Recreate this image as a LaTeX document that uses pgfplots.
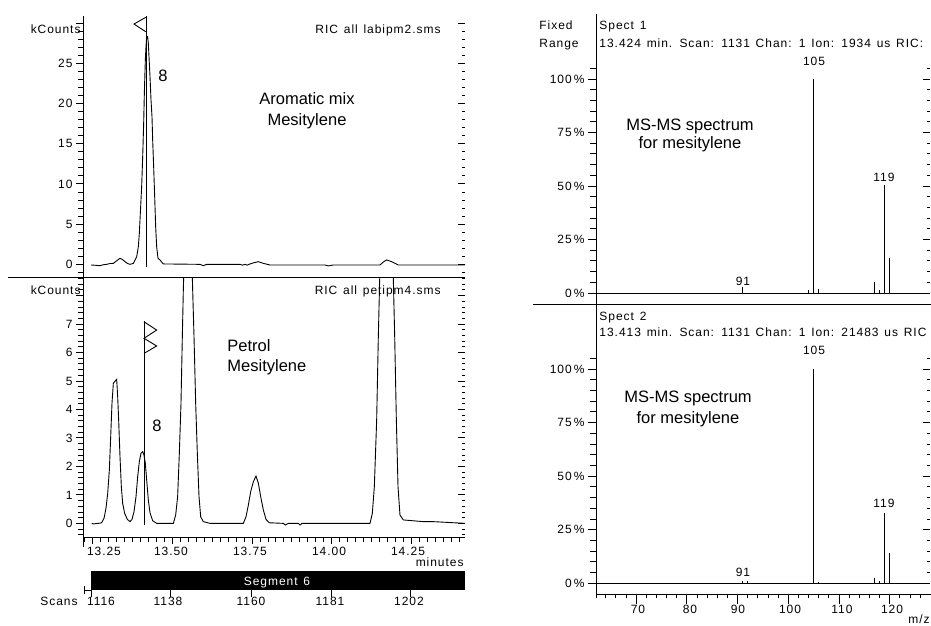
\documentclass[border=0pt]{standalone}
\usepackage{pgfplots}
\pgfplotsset{compat=1.18}
\usepackage{fontspec}
\setmainfont{Liberation Sans}
\newfontfamily\labfont{Liberation Sans}[LetterSpace=8,WordSpace=1.35]
\newcommand{\lbl}{\labfont\fontsize{12}{14}\selectfont}
\newcommand{\ann}{\fontsize{16.5}{19}\selectfont}
\pgfplotsset{
  panel/.style={scale only axis, anchor=south west, axis line style={draw=none},
    tick style={black, line width=0.9pt}, tick align=outside, xtick=\empty,
    ytick pos=left, yticklabel style={font=\lbl, anchor=east},
    /pgf/number format/assume math mode=true, clip=true},
  rticks/.style={scale only axis, anchor=south west, axis line style={draw=none},
    tick style={black, line width=0.9pt}, tick align=inside, xtick=\empty,
    ytick pos=right, yticklabels={}, major tick length=7pt, minor tick length=3pt},
}
\begin{document}
\begin{tikzpicture}
% ---------- top-left chromatogram ----------
\begin{axis}[panel, at={(83pt,-277pt)}, width=382pt, height=261pt,
  xmin=13.2202, xmax=14.4177, ymin=-1.576, ymax=30.89,
  ytick={0,5,10,15,20,25,30}, yticklabels={0,5,10,15,20,25,{}},
  minor ytick={-1,0,...,30}, major tick length=7pt, minor tick length=5pt]
\addplot[black, line width=0.9pt] table {
13.2453 -0.08
13.2600 -0.12
13.2735 -0.17
13.2840 -0.05
13.2944 0.00
13.3050 0.10
13.3153 0.12
13.3260 0.45
13.3362 0.75
13.3440 0.60
13.3519 0.33
13.3600 0.10
13.3676 0.00
13.3780 0.12
13.3885 0.95
13.3937 2.2
13.3968 3.86
13.3999 6.34
13.4041 9.66
13.4073 13.39
13.4104 17.54
13.4125 21.27
13.4156 25.41
13.4177 27.07
13.4198 28.32
13.4229 28.32
13.4250 27.49
13.4271 25.83
13.4303 23.34
13.4334 20.44
13.4365 18.37
13.4386 15.46
13.4417 12.15
13.4449 8.42
13.4480 4.68
13.4511 2.2
13.4553 0.75
13.4616 0.54
13.4720 0.05
13.5870 0.00
13.5974 -0.17
13.6079 0.00
13.7124 0.00
13.7200 -0.1
13.7281 0.0
13.7350 -0.1
13.7437 0.05
13.7560 0.2
13.7699 0.33
13.7855 0.12
13.8064 -0.08
13.9788 -0.08
13.9893 -0.2
14.0050 -0.08
14.1513 -0.08
14.1620 0.3
14.1722 0.55
14.1878 0.33
14.2087 -0.08
14.4177 -0.08
};
\draw[line width=0.9pt] (axis cs:13.4198,-0.3) -- (axis cs:13.4198,30.89);
\draw[line width=0.9pt] (axis cs:13.4167,30.72) -- (axis cs:13.3801,29.89) -- (axis cs:13.4167,28.94);
\end{axis}
\begin{axis}[rticks, at={(83pt,-277pt)}, width=382pt, height=261pt,
  xmin=13.2202, xmax=14.4177, ymin=-1.576, ymax=30.89,
  ytick={0,5,10,15,20,25,30}, minor ytick={-1,0,...,30}]
\end{axis}
% ---------- bottom-left chromatogram ----------
\begin{axis}[panel, at={(83pt,-537pt)}, width=382pt, height=260pt,
  xmin=13.2202, xmax=14.4177, ymin=-0.480, ymax=8.653,
  ytick={0,1,2,3,4,5,6,7,8}, yticklabels={0,1,2,3,4,5,6,7,{}},
  minor ytick={-0.4,-0.2,0,0.2,...,8.6},
  xtick={13.25,13.5,13.75,14,14.25}, xticklabels={}, xtick pos=left,
  minor xtick={13.225,13.25,...,14.41},
  major tick length=7pt, minor tick length=5pt]
\addplot[black, line width=0.9pt] table {
13.2474 0
13.2526 -0.02
13.2683 0
13.2787 0.02
13.2861 0.18
13.2923 0.53
13.2976 1.05
13.3028 1.87
13.3070 3.04
13.3111 4.22
13.3153 4.92
13.3195 4.98
13.3258 5.06
13.3289 4.45
13.3320 3.63
13.3362 2.34
13.3404 1.29
13.3446 0.70
13.3508 0.35
13.3592 0.14
13.3676 0.06
13.3738 0.14
13.3801 0.41
13.3864 0.94
13.3916 1.64
13.3968 2.17
13.4020 2.46
13.4073 2.52
13.4114 2.40
13.4156 2.11
13.4198 1.52
13.4250 0.82
13.4303 0.37
13.4386 0.09
13.4511 0
13.5034 0
13.5107 0.29
13.5169 0.94
13.5222 2.46
13.5274 4.22
13.5316 6.56
13.5347 8.2
13.5379 9.5
13.5494 14
13.5609 9.5
13.5640 8.2
13.5682 6.56
13.5734 4.22
13.5786 2.46
13.5839 0.94
13.5891 0.23
13.5974 0.06
13.6183 0
13.7228 0
13.7312 0.23
13.7385 0.64
13.7458 1.11
13.7542 1.46
13.7625 1.66
13.7699 1.41
13.7772 0.94
13.7855 0.47
13.7939 0.14
13.8043 0.02
13.8482 0
13.8545 -0.06
13.8639 0
13.8952 0
13.9005 -0.06
13.9067 0
14.1199 0
14.1272 0.35
14.1335 1.29
14.1408 3.63
14.1460 6.56
14.1502 8.55
14.1533 9.6
14.1722 20
14.1899 9.6
14.1931 8.55
14.1973 6.56
14.2025 3.63
14.2077 1.29
14.2139 0.29
14.2244 0.12
14.2557 0.09
14.2871 0.06
14.3184 0.06
14.4177 0
};
\draw[line width=0.9pt] (axis cs:13.4114,-0.06) -- (axis cs:13.4114,7.10);
\draw[line width=0.9pt] (axis cs:13.4114,7.08) -- (axis cs:13.4511,6.79) -- (axis cs:13.4114,6.50)
  -- (axis cs:13.4511,6.23) -- (axis cs:13.4114,5.97);
\end{axis}
\begin{axis}[rticks, at={(83pt,-537pt)}, width=382pt, height=260pt,
  xmin=13.2202, xmax=14.4177, ymin=-0.480, ymax=8.653,
  ytick={0,1,2,3,4,5,6,7,8}, minor ytick={-0.4,-0.2,0,0.2,...,8.6}]
\end{axis}
% ---------- top-right spectrum ----------
\begin{axis}[panel, at={(596pt,-304pt)}, width=334pt, height=290pt,
  xmin=62.08, xmax=127.94, ymin=-5.14, ymax=130.37,
  ytick={0,25,50,75,100}, yticklabels={0\,\%,25\,\%,50\,\%,75\,\%,100\,\%},
  minor ytick={5,10,...,105}, major tick length=8pt, minor tick length=6pt]
\addplot[ycomb, black, line width=0.9pt] coordinates {
(91,2.8) (104,1.2) (105,100) (106,2) (117,5.1) (118,1.2) (119,50.4) (120,16.3)};
\draw[line width=0.9pt] (axis cs:62.08,0) -- (axis cs:127.94,0);
\end{axis}
\begin{axis}[rticks, at={(596pt,-304pt)}, width=334pt, height=290pt,
  xmin=62.08, xmax=127.94, ymin=-5.14, ymax=130.37,
  ytick={0,25,50,75,100}, minor ytick={5,10,...,105}]
\end{axis}
% ---------- bottom-right spectrum ----------
\begin{axis}[panel, at={(596pt,-594pt)}, width=334pt, height=290pt,
  xmin=62.08, xmax=127.94, ymin=-5.0, ymax=130.3,
  ytick={0,25,50,75,100}, yticklabels={0\,\%,25\,\%,50\,\%,75\,\%,100\,\%},
  minor ytick={5,10,...,105}, major tick length=8pt, minor tick length=6pt]
\addplot[ycomb, black, line width=0.9pt] coordinates {
(91,1.2) (92,1.1) (105,100) (106,0.5) (117,2.3) (118,1.2) (119,32.7) (120,14.3)};
\draw[line width=0.9pt] (axis cs:62.08,0) -- (axis cs:127.94,0);
\end{axis}
\begin{axis}[rticks, at={(596pt,-594pt)}, width=334pt, height=290pt,
  xmin=62.08, xmax=127.94, ymin=-5.0, ymax=130.3,
  ytick={0,25,50,75,100}, minor ytick={5,10,...,105}]
\end{axis}
\begin{axis}[scale only axis, anchor=south west, at={(596pt,-594pt)}, width=334pt, height=290pt,
  xmin=62.08, xmax=127.94, ymin=-5.0, ymax=130.3, axis line style={draw=none},
  ytick=\empty, xtick={70,80,...,120}, xticklabels={}, minor xtick={64,66,...,126},
  xtick pos=left, tick align=outside, major tick length=10pt, minor tick length=4pt,
  tick style={black, line width=0.9pt}]
\end{axis}
% ---------- frame lines and texts ----------
\begin{scope}[x=1pt, y=-1pt, line width=0.9pt]
\draw (83,16) -- (83,547);
\draw (8,277) -- (465,277);
\draw (83,537) -- (465,537);
\fill (91,571) rectangle (465,590);
\draw (84,590) -- (91,590);
\draw (84,586) -- (84,594);
\foreach \xx in {91,170,251,331,410} {\draw (\xx,590) -- (\xx,597);}
\draw (596,14) -- (596,598);
\draw (533,304) -- (931,304);
\draw (596,594) -- (931,594);
% left texts
\node[font=\lbl, anchor=base east, inner sep=0pt] at (81,33) {kCounts};
\node[font=\lbl, anchor=base east, inner sep=0pt] at (441,33) {RIC all labipm2.sms};
\node[font=\lbl, anchor=base east, inner sep=0pt] at (81,294) {kCounts};
\node[font=\lbl, anchor=base east, inner sep=0pt] at (441,294) {RIC all petipm4.sms};
\node[font=\ann, anchor=base, inner sep=0pt] at (163,81.7) {8};
\node[font=\ann, anchor=base, inner sep=0pt] at (157,431) {8};
\node[font=\ann, anchor=base, inner sep=0pt] at (307,104.3) {Aromatic mix};
\node[font=\ann, anchor=base, inner sep=0pt] at (307,125) {Mesitylene};
\node[font=\ann, anchor=base west, inner sep=0pt] at (227,351) {Petrol};
\node[font=\ann, anchor=base west, inner sep=0pt] at (227,371.7) {Mesitylene};
\foreach \xx/\tt in {104/13.25,171/13.50,250/13.75,329/14.00,408/14.25}
  {\node[font=\lbl, anchor=base, inner sep=0pt] at (\xx,555) {\tt};}
\node[font=\lbl, anchor=base east, inner sep=0pt] at (464,566.7) {minutes};
\node[font=\lbl, anchor=base, inner sep=0pt, text=white] at (277,585) {Segment 6};
\node[font=\lbl, anchor=base, inner sep=0pt] at (59,605) {Scans};
\foreach \xx/\tt in {101/1116,168/1138,251/1160,330/1181,409/1202}
  {\node[font=\lbl, anchor=base, inner sep=0pt] at (\xx,605) {\tt};}
% right texts
\node[font=\lbl, anchor=base west, inner sep=0pt] at (539,29) {Fixed};
\node[font=\lbl, anchor=base west, inner sep=0pt] at (539,47) {Range};
\node[font=\lbl, anchor=base west, inner sep=0pt] at (599,29) {Spect 1};
\node[font=\lbl, anchor=base west, inner sep=0pt] at (599,47) {13.424 min. Scan: 1131 Chan: 1 Ion: 1934 us RIC:};
\node[font=\lbl, anchor=base, inner sep=0pt] at (814,65) {105};
\node[font=\lbl, anchor=base, inner sep=0pt] at (884,181.7) {119};
\node[font=\lbl, anchor=base, inner sep=0pt] at (743,285.7) {91};
\node[font=\ann, anchor=base, inner sep=0pt] at (690,130) {MS-MS spectrum};
\node[font=\ann, anchor=base, inner sep=0pt] at (690,148.3) {for mesitylene};
\node[font=\lbl, anchor=base west, inner sep=0pt] at (599,320) {Spect 2};
\node[font=\lbl, anchor=base west, inner sep=0pt] at (599,336.7) {13.413 min. Scan: 1131 Chan: 1 Ion: 21483 us RIC};
\node[font=\lbl, anchor=base, inner sep=0pt] at (814,354) {105};
\node[font=\lbl, anchor=base, inner sep=0pt] at (884,507.7) {119};
\node[font=\lbl, anchor=base, inner sep=0pt] at (743,576) {91};
\node[font=\ann, anchor=base, inner sep=0pt] at (688,402.3) {MS-MS spectrum};
\node[font=\ann, anchor=base, inner sep=0pt] at (688,423.3) {for mesitylene};
\foreach \xx/\tt in {638/70,690/80,738/90,790/100,842/110,892/120}
  {\node[font=\lbl, anchor=base, inner sep=0pt] at (\xx,613.3) {\tt};}
\node[font=\lbl, anchor=base east, inner sep=0pt] at (930,623.5) {m/z};
\end{scope}
\pgfresetboundingbox
\useasboundingbox (0pt,0pt) rectangle (931pt,-625pt);
\end{tikzpicture}
\end{document}
